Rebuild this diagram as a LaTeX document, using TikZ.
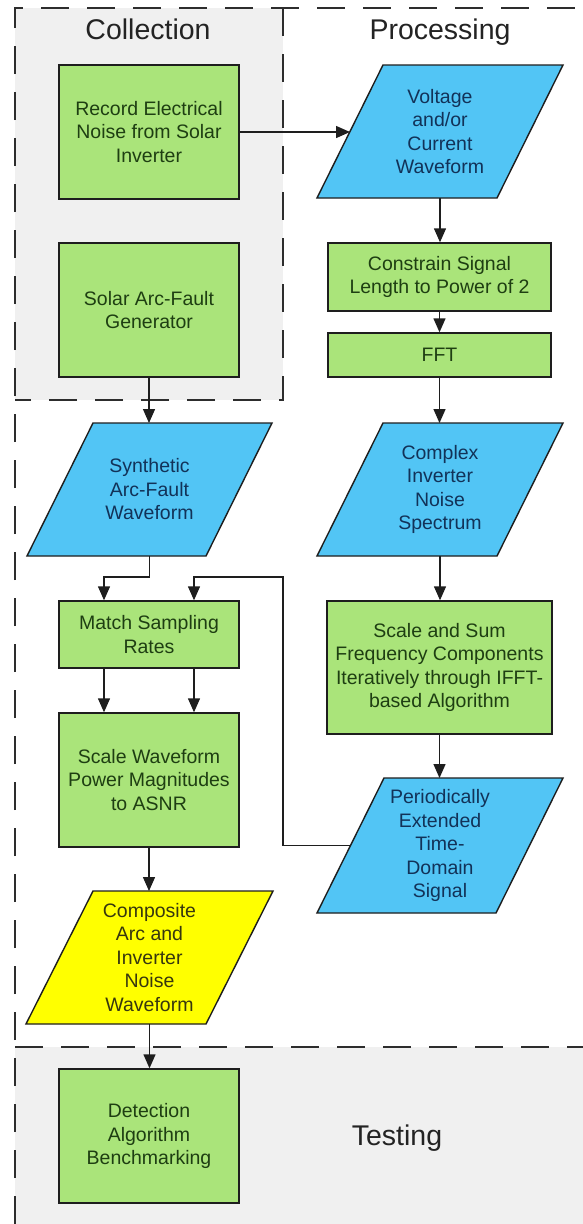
\documentclass[tikz,border=0pt]{standalone}
\usepackage{fontspec}
\setmainfont{Liberation Sans}
\usetikzlibrary{arrows.meta,calc,backgrounds}
\definecolor{gfill}{RGB}{170,228,122}
\definecolor{gtext}{RGB}{30,62,18}
\definecolor{bfill}{RGB}{82,197,245}
\definecolor{btext}{RGB}{18,50,88}
\definecolor{yfill}{RGB}{255,255,0}
\definecolor{ytext}{RGB}{55,55,15}
\definecolor{regfill}{RGB}{240,240,240}
\definecolor{linec}{RGB}{30,30,30}
\definecolor{dashc}{RGB}{45,45,45}
\definecolor{labc}{RGB}{35,35,35}
\newcommand\boxfont{\fontsize{19.5}{23.5}\selectfont}
\newcommand\labfont{\fontsize{28.5}{32}\selectfont}
\newcommand\paradraw[3]{%
  \begin{scope}[on background layer]
    \filldraw[fill=#2, draw=linec, line width=1.4pt, line join=miter]
      (#1.south west) -- ($(#1.north west)+(#3,0)$) -- (#1.north east)
      -- ($(#1.south east)-(#3,0)$) -- cycle;
  \end{scope}}
\tikzset{
  gbox/.style={draw=linec, fill=gfill, text=gtext, line width=1.4pt, align=center,
    inner sep=0pt, font=\boxfont, minimum width=180pt},
  pnode/.style={align=center, inner sep=0pt, outer sep=0pt, font=\boxfont},
  arr/.style={draw=linec, line width=1.4pt, -{Triangle[length=14pt,width=12pt]}},
  dashline/.style={draw=dashc, line width=2pt, dash pattern=on 28pt off 18pt},
  lab/.style={font=\labfont, text=labc, anchor=base, inner sep=0pt}
}
\begin{document}
\begin{tikzpicture}[x=1pt,y=-1pt]
\useasboundingbox (0,0) rectangle (583,1224);
\begin{scope}[on background layer]
  \fill[white] (0,0) rectangle (583,1224);
  \fill[regfill] (15,8) rectangle (283,400);
  \fill[regfill] (15,1047) rectangle (583,1224);
  \draw[dashline] (15,1224) -- (15,8) -- (583,8);
  \draw[dashline] (283,8) -- (283,400) -- (15,400);
  \draw[dashline] (15,1047) -- (583,1047);
\end{scope}

\node[lab] (lcol) at (148,39) {Collection};
\node[lab] (lpro) at (440,39) {Processing};
\node[lab] (ltes) at (397,1145) {Testing};

% Collection column
\node[gbox, minimum height=134pt] (rec) at (149,132) {Record Electrical\\Noise from Solar\\Inverter};
\node[gbox, minimum height=134pt] (gen) at (149,310) {Solar Arc-Fault\\Generator};

% Processing column
\node[pnode, text=btext, minimum width=246pt, minimum height=133pt] (volt) at (440,131.5) {Voltage\\and/or\\Current\\Waveform};
\paradraw{volt}{bfill}{66}
\node[gbox, minimum width=223pt, minimum height=68pt] (con) at (439.5,277) {Constrain Signal\\Length to Power of 2};
\node[gbox, minimum width=223pt, minimum height=44pt] (fft) at (439.5,355) {FFT};
\node[pnode, text=btext, minimum width=246pt, minimum height=133pt] (comp) at (440,489.5) {Complex\\Inverter\\Noise\\Spectrum};
\paradraw{comp}{bfill}{66}
\node[gbox, minimum width=225pt, minimum height=133pt] (ssum) at (439.5,667.5) {Scale and Sum\\Frequency Components\\Iteratively through IFFT-\\based Algorithm};
\node[pnode, text=btext, minimum width=246pt, minimum height=135pt] (per) at (440,845.5) {Periodically\\Extended\\Time-\\Domain\\Signal};
\paradraw{per}{bfill}{67}

% Left lower column
\node[pnode, text=btext, minimum width=245pt, minimum height=133pt] (syn) at (149.5,489.5) {Synthetic\\Arc-Fault\\Waveform};
\paradraw{syn}{bfill}{66}
\node[gbox, minimum height=67pt] (match) at (149,634.5) {Match Sampling\\Rates};
\node[gbox, minimum height=134pt] (swav) at (149,780) {Scale Waveform\\Power Magnitudes\\to ASNR};
\node[pnode, text=ytext, minimum width=247pt, minimum height=133pt] (cps) at (149.5,957.5) {Composite\\Arc and\\Inverter\\Noise\\Waveform};
\paradraw{cps}{yfill}{67}
\node[gbox, minimum height=134pt] (det) at (149,1136) {Detection\\Algorithm\\Benchmarking};

% connectors
\coordinate (voltL) at ($(volt.west)+(33,0)$);
\coordinate (perL) at ($(per.west)+(33.5,0)$);
\coordinate (fbx) at (283,577);
\draw[arr] (rec.east) -- (rec.east -| voltL);
\draw[arr] (volt.south) -- (volt.south |- con.north);
\draw[arr] (con.south) -- (con.south |- fft.north);
\draw[arr] (fft.south) -- (fft.south |- comp.north);
\draw[arr] (comp.south) -- (comp.south |- ssum.north);
\draw[arr] (ssum.south) -- (ssum.south |- per.north);
\draw[arr] (gen.south) -- (gen.south |- syn.north);
\draw[arr] (syn.south) -- ++(0,21) -| ($(match.north)+(-45,0)$);
\draw[arr] (perL) -| (fbx) -| ($(match.north)+(45,0)$);
\draw[arr] ($(match.south)+(-45,0)$) -- ($(swav.north)+(-45,0)$);
\draw[arr] ($(match.south)+(45,0)$) -- ($(swav.north)+(45,0)$);
\draw[arr] (swav.south) -- (swav.south |- cps.north);
\draw[arr] (cps.south) -- (cps.south |- det.north);
\end{tikzpicture}
\end{document}
